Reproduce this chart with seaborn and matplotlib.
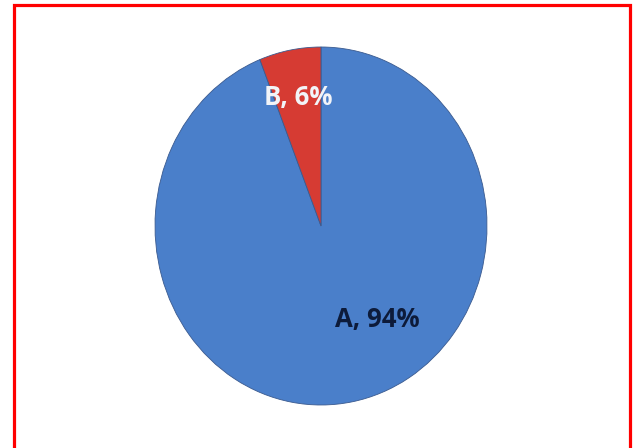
import matplotlib
matplotlib.use("Agg")
import matplotlib.pyplot as plt
import seaborn as sns
from matplotlib.patches import Rectangle

categories = ["A", "B"]
values = [94, 6]
colors = ["#4a7fca", "#d63b33"]
text_colors = ["#0d1b3a", "#f2f4f8"]

sns.set_theme(style="white")
plt.rcParams['font.family'] = ['Open Sans', 'DejaVu Sans']

fig = plt.figure(figsize=(6.37, 4.48), dpi=100)
fig.patch.set_facecolor("white")
W, H = 637, 448
ax = fig.add_axes([155 / W, (H - 405) / H, 332 / W, 358 / H])

wedges, texts = ax.pie(values, colors=colors, startangle=90, counterclock=False,
                       wedgeprops=dict(edgecolor="#3a5a8f", linewidth=0.6),
                       labels=[f"{c}, {v}%" for c, v in zip(categories, values)],
                       labeldistance=0.6)
ax.set_aspect("auto")
ax.set_xlim(-1, 1)
ax.set_ylim(-1, 1)
label_pos = [(0.34, -0.52), (-0.136, 0.72)]
for t, c, p in zip(texts, text_colors, label_pos):
    t.set_position(p)
    t.set_color(c)
    t.set_fontsize(18.5)
    t.set_fontweight("bold")
    t.set_ha("center")
    t.set_va("center")

fig.patches.append(Rectangle((13.5 / W, -0.05), (630 - 13.5) / W, (H - 5.5) / H + 0.05,
                             transform=fig.transFigure, fill=False,
                             edgecolor="#ff0000", linewidth=2.3))
fig.savefig("out.png", dpi=100)
